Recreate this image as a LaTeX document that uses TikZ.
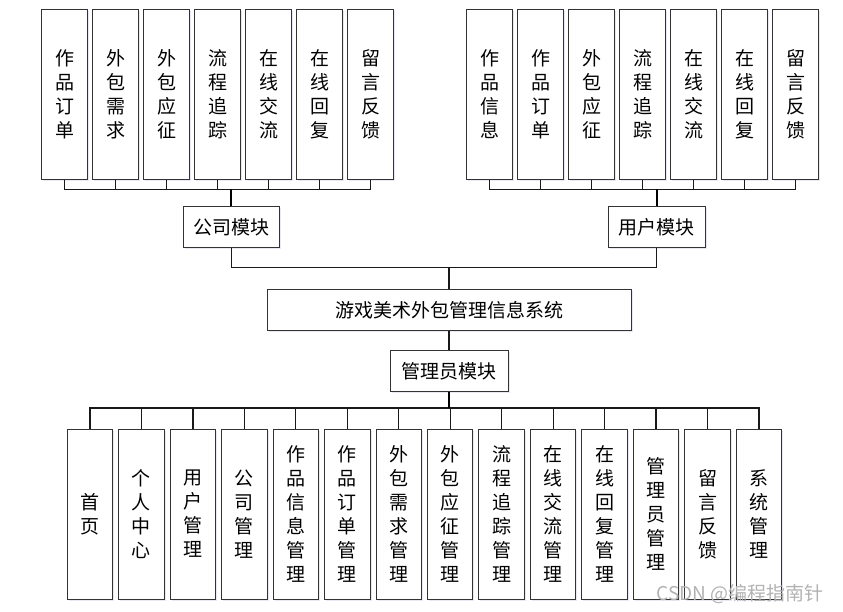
\documentclass[tikz,border=0pt]{standalone}
\usepackage{fontspec}
\setmainfont{Noto Sans CJK SC}
\usetikzlibrary{shadows}

\tikzset{
  box/.style={draw=black!80, line width=1pt, fill=white, inner sep=0pt, align=center,
    font=\fontsize{19}{24}\selectfont,
    drop shadow={shadow xshift=1.5pt, shadow yshift=-1.5pt, opacity=.12, fill=blue!40!gray}},
  leaf/.style={box, minimum width=45.5pt, minimum height=170pt},
  module/.style={box, minimum height=41pt},
  bus/.style={line width=1.2pt, black!90},
  stem/.style={line width=2pt, black},
}

\begin{document}
\begin{tikzpicture}[x=1pt,y=-1pt]
\useasboundingbox (0,0) rectangle (843,612);
% top row: company side and user side
\foreach \t [count=\i from 0] in {{作\\品\\订\\单},{外\\包\\需\\求},{外\\包\\应\\征},{流\\程\\追\\踪},{在\\线\\交\\流},{在\\线\\回\\复},{留\\言\\反\\馈}}
  \node[leaf] (cl\i) at (64.5+51*\i, 94.3) {\t};
\foreach \t [count=\i from 0] in {{作\\品\\信\\息},{作\\品\\订\\单},{外\\包\\应\\征},{流\\程\\追\\踪},{在\\线\\交\\流},{在\\线\\回\\复},{留\\言\\反\\馈}}
  \node[leaf] (ul\i) at (489.5+51*\i, 94.3) {\t};
\node[module, minimum width=96pt] (com) at (231.3, 227) {公司模块};
\node[module, minimum width=96.7pt] (usr) at (656.7, 227) {用户模块};
% middle
\node[module, minimum width=364pt] (sys) at (449, 309.8) {游戏美术外包管理信息系统};
\node[module, minimum width=118pt] (adm) at (449, 371.3) {管理员模块};
% bottom row
\foreach \t [count=\i from 0] in {{首\\页},{个\\人\\中\\心},{用\\户\\管\\理},{公\\司\\管\\理},{作\\品\\信\\息\\管\\理},{作\\品\\订\\单\\管\\理},{外\\包\\需\\求\\管\\理},{外\\包\\应\\征\\管\\理},{流\\程\\追\\踪\\管\\理},{在\\线\\交\\流\\管\\理},{在\\线\\回\\复\\管\\理},{管\\理\\员\\管\\理},{留\\言\\反\\馈},{系\\统\\管\\理}}
  \node[leaf] (al\i) at (90+51.46*\i, 514) {\t};

% buses
\path (com.north) ++(0,-16.7) coordinate (cb);
\path (usr.north) ++(0,-16.7) coordinate (ub);
\path (adm.south) ++(0,15.7) coordinate (ab);
\foreach \i in {0,...,6} {
  \draw[bus] (cl\i.south) |- (cb);
  \draw[bus] (ul\i.south) |- (ub);
}
\foreach \i in {0,...,13}
  \draw[bus] (al\i.north) |- (ab);
\draw[stem] (cb) -- (com.north);
\draw[stem] (ub) -- (usr.north);
\draw[stem] (adm.south) -- (ab);

% modules to system
\path (sys.north) ++(0,-21) coordinate (j);
\draw[bus] (com.south) |- (j) -| (usr.south);
\draw[bus] (j) -- (sys.north);
\draw[bus] (sys.south) -- (adm.north);

\node[anchor=east, text=black!30, font=\fontsize{19}{22}\selectfont] (wm) at (827, 594) {CSDN @编程指南针};
\end{tikzpicture}
\end{document}
